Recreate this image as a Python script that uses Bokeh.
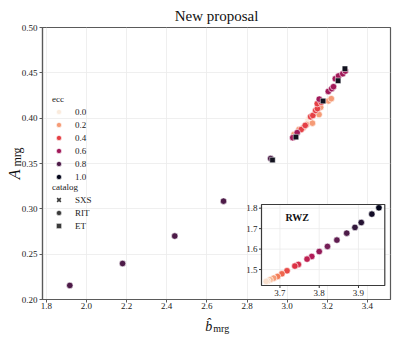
import numpy as np
from bokeh.plotting import figure
from bokeh.models import (Range1d, Label, Legend, LegendItem, LinearColorMapper,
                          FixedTicker, PrintfTickFormatter, ColumnDataSource)
from bokeh.embed import file_html
from bokeh.resources import INLINE
from bokeh.core.properties import value

# ---------------- data ----------------
ecc_levels = [0.0, 0.2, 0.4, 0.6, 0.8, 1.0]

rit_b = [1.917, 2.180, 2.440, 2.683, 2.918,
         3.028, 3.050, 3.160, 3.205, 3.222, 3.231, 3.240, 3.256, 3.277, 3.290,
         3.070, 3.090, 3.117, 3.128, 3.142, 3.151, 3.150, 3.170,
         3.034, 3.059, 3.080, 3.097, 3.126, 3.159, 3.167, 3.205, 3.220,
         3.085, 3.104, 3.120, 3.138]
rit_A = [0.2155, 0.2397, 0.2700, 0.3085, 0.3555,
         0.3785, 0.3840, 0.4210, 0.4295, 0.4325, 0.4347, 0.4435, 0.4465, 0.4490, 0.4520,
         0.3875, 0.3920, 0.4015, 0.4030, 0.4085, 0.4105, 0.4160, 0.4175,
         0.3820, 0.3875, 0.3895, 0.3930, 0.3945, 0.4040, 0.4120, 0.4190, 0.4215,
         0.3915, 0.3985, 0.4005, 0.4060]
rit_ecc = [0.8, 0.8, 0.8, 0.8, 0.8,
           0.6, 0.6, 0.6, 0.6, 0.6, 0.6, 0.6, 0.6, 0.6, 0.6,
           0.4, 0.4, 0.4, 0.4, 0.4, 0.4, 0.4, 0.4,
           0.2, 0.2, 0.2, 0.2, 0.2, 0.2, 0.2, 0.2, 0.2,
           0.0, 0.0, 0.0, 0.0]

et_b = [2.927, 3.044, 3.179, 3.254, 3.288]
et_A = [0.3538, 0.3791, 0.4189, 0.4413, 0.4545]

sxs_b = []
sxs_A = []

rwz_b = [3.952, 3.934, 3.907, 3.891, 3.870, 3.845, 3.821, 3.800, 3.781, 3.769,
         3.747, 3.738, 3.718, 3.705, 3.694, 3.684, 3.675, 3.669, 3.665]
rwz_A = [1.802, 1.771, 1.730, 1.706, 1.678, 1.644, 1.613, 1.588, 1.564, 1.551,
         1.525, 1.517, 1.494, 1.479, 1.466, 1.458, 1.450, 1.444, 1.442]
rwz_ecc = [1.00, 0.95, 0.90, 0.86, 0.80, 0.75, 0.70, 0.63, 0.56, 0.52,
           0.47, 0.44, 0.38, 0.32, 0.27, 0.20, 0.14, 0.08, 0.03]

x_ticks = [1.8, 2.0, 2.2, 2.4, 2.6, 2.8, 3.0, 3.2, 3.4]
y_ticks = [0.20, 0.25, 0.30, 0.35, 0.40, 0.45, 0.50]
inset_x_ticks = [3.7, 3.8, 3.9]
inset_y_ticks = [1.5, 1.6, 1.7, 1.8]

catalogs = ["SXS", "RIT", "ET"]

# ---------------- style ----------------
SERIF = "Liberation Serif"
SPINE = "#5a5a5a"
INSET_SPINE = "#3a3a3a"
GRID = "#ebebeb"
TXT = "#222222"
CAT_GRAY = "#3b3b3b"

rocket_anchor = ["#03051A", "#35193E", "#701F57", "#AD1759",
                 "#E13342", "#F37651", "#F6B48F", "#FAEBDD"]
anchor_rgb = np.array([[int(h[i:i + 2], 16) for i in (1, 3, 5)] for h in rocket_anchor], float)
anchor_t = np.linspace(0, 1, len(rocket_anchor))


def rocket(t):
    rgb = [np.interp(t, anchor_t, anchor_rgb[:, k]) for k in range(3)]
    return "#%02x%02x%02x" % tuple(int(round(c)) for c in rgb)


def ecc_color(e):
    return rocket(1.0 - e)


palette = [ecc_color(e) for e in np.linspace(0, 1, 256)]

# ---------------- main figure ----------------
X0, X1 = 1.781, 3.515
Y0, Y1 = 0.20, 0.50
FW, FH = 348, 272

p = figure(frame_width=FW, frame_height=FH, min_border_left=42, min_border_right=1,
           min_border_top=27, min_border_bottom=39, title="New proposal",
           x_range=Range1d(X0, X1), y_range=Range1d(Y0, Y1),
           output_backend="svg", toolbar_location=None, tools="")
p.title.text_font = SERIF
p.title.text_font_size = "15px"
p.title.text_font_style = "normal"
p.title.text_color = "#111111"
p.title.align = "center"
p.title.standoff = 8

p.background_fill_color = "white"
p.border_fill_color = "white"
p.outline_line_color = SPINE
p.outline_line_width = 1.2
p.outline_line_alpha = 1.0

p.xaxis.ticker = FixedTicker(ticks=x_ticks)
p.yaxis.ticker = FixedTicker(ticks=y_ticks)
p.xaxis.formatter = PrintfTickFormatter(format="%.1f")
p.yaxis.formatter = PrintfTickFormatter(format="%.2f")
for ax in (p.xaxis[0], p.yaxis[0]):
    ax.axis_line_color = SPINE
    ax.axis_line_width = 1.2
    ax.major_tick_line_color = SPINE
    ax.major_tick_line_width = 1
    ax.major_tick_out = 3
    ax.major_tick_in = 0
    ax.minor_tick_line_color = None
    ax.major_label_text_font = SERIF
    ax.major_label_text_font_size = "9px"
    ax.major_label_text_color = TXT
p.xaxis.major_label_standoff = 0
p.yaxis.major_label_standoff = 2
p.grid.grid_line_color = GRID
p.grid.grid_line_width = 0.8

# RIT circles grouped by eccentricity (NaN keeps the legend swatch of an empty group)
rb, rA, re = np.array(rit_b), np.array(rit_A), np.array(rit_ecc)
ecc_items = []
for e in ecc_levels:
    m = np.isclose(re, e)
    xs, ys = list(rb[m]), list(rA[m])
    if not xs:
        xs, ys = [np.nan], [np.nan]
    r = p.scatter(xs, ys, marker="circle", size=6.5, fill_color=ecc_color(e),
                  line_color="white", line_width=0.6)
    ecc_items.append(LegendItem(label=value(f"{e:.1f}"), renderers=[r]))

# ET squares
p.scatter(et_b, et_A, marker="square", size=5.5, fill_color="#12121f",
          line_color="white", line_width=0.5)

# catalog legend swatches (gray)
cat_style = {"SXS": dict(marker="x", line_color=CAT_GRAY, line_width=1.6),
             "RIT": dict(marker="circle", line_color="white", line_width=0.5),
             "ET": dict(marker="square", line_color="white", line_width=0.5)}
cat_items = []
for c in catalogs:
    xs = sxs_b if (c == "SXS" and sxs_b) else [np.nan]
    ys = sxs_A if (c == "SXS" and sxs_A) else [np.nan]
    r = p.scatter(xs, ys, fill_color=CAT_GRAY, **cat_style[c])
    cat_items.append(LegendItem(label=value(c), renderers=[r]))


def make_legend(title, items, loc):
    lg = Legend(title=title, items=items, location=loc, orientation="vertical",
                background_fill_alpha=0, border_line_color=None,
                padding=0, margin=0, spacing=0,
                glyph_width=13, glyph_height=13, label_height=13, label_standoff=10,
                title_standoff=1,
                label_text_font=SERIF, label_text_font_size="9px", label_text_color=TXT,
                title_text_font=SERIF, title_text_font_size="9px", title_text_color=TXT,
                title_text_font_style="normal")
    p.add_layout(lg, "center")
    return lg


make_legend("ecc", ecc_items, (10, 116))
make_legend("catalog", cat_items, (10, 67))

# ---------------- inset (RWZ) ----------------
IX0, IX1, IY0, IY1 = 3.653, 3.967, 1.422, 1.818
IL, IR = 219.0, 342.3     # inset box, px from frame left
IB, IT = 14.0, 95.0       # inset box, px from frame bottom
sx = (IX1 - IX0) / (IR - IL)
sy = (IY1 - IY0) / (IT - IB)
p.extra_x_ranges = {"ix": Range1d(IX0 - IL * sx, IX0 + (FW - IL) * sx)}
p.extra_y_ranges = {"iy": Range1d(IY0 - IB * sy, IY0 + (FH - IB) * sy)}
ikw = dict(x_range_name="ix", y_range_name="iy")

p.quad(left=[IX0], right=[IX1], bottom=[IY0], top=[IY1], fill_color="white",
       line_color=None, **ikw)
p.segment(x0=inset_x_ticks, x1=inset_x_ticks, y0=[IY0] * len(inset_x_ticks),
          y1=[IY1] * len(inset_x_ticks), line_color=GRID, line_width=0.8, **ikw)
p.segment(x0=[IX0] * len(inset_y_ticks), x1=[IX1] * len(inset_y_ticks),
          y0=inset_y_ticks, y1=inset_y_ticks, line_color=GRID, line_width=0.8, **ikw)
p.segment(x0=inset_x_ticks, x1=inset_x_ticks, y0=[IY0] * len(inset_x_ticks),
          y1=[IY0 - 2.5 * sy] * len(inset_x_ticks), line_color=INSET_SPINE, line_width=1, **ikw)
p.segment(x0=[IX0] * len(inset_y_ticks), x1=[IX0 - 2.5 * sx] * len(inset_y_ticks),
          y0=inset_y_ticks, y1=inset_y_ticks, line_color=INSET_SPINE, line_width=1, **ikw)

mapper = LinearColorMapper(palette=palette, low=0, high=1)
src = ColumnDataSource(dict(x=rwz_b, y=rwz_A, e=rwz_ecc))
p.scatter("x", "y", source=src, marker="circle", size=6.5,
          fill_color={"field": "e", "transform": mapper},
          line_color="white", line_width=0.6, **ikw)

p.quad(left=[IX0], right=[IX1], bottom=[IY0], top=[IY1], fill_color=None,
       line_color=INSET_SPINE, line_width=1.2, **ikw)

p.text(x=inset_x_ticks, y=[IY0] * len(inset_x_ticks), text=[f"{t:.1f}" for t in inset_x_ticks],
       text_align="center", text_baseline="top", y_offset=4,
       text_font=value(SERIF), text_font_size="9px", text_color=TXT, **ikw)
p.text(x=[IX0] * len(inset_y_ticks), y=inset_y_ticks, text=[f"{t:.1f}" for t in inset_y_ticks],
       text_align="right", text_baseline="middle", x_offset=-4,
       text_font=value(SERIF), text_font_size="9px", text_color=TXT, **ikw)

p.add_layout(Label(x=IX0, y=IY1, x_range_name="ix", y_range_name="iy", x_offset=24, y_offset=-13,
                   text="RWZ", text_font=SERIF, text_font_size="10px", text_font_style="bold",
                   text_color="#111111", text_baseline="middle", text_align="left"))

# ---------------- axis labels (in side panels, so they are not clipped) ----------------
XM = (X0 + X1) / 2
YM = (Y0 + Y1) / 2

p.add_layout(Label(x=XM, y=Y0, x_offset=-4.3, y_offset=-27, text="b\u0302", text_font=SERIF,
                   text_font_size="14px", text_font_style="italic", text_color="#111111",
                   text_align="right", text_baseline="alphabetic"), "below")
p.add_layout(Label(x=XM, y=Y0, x_offset=-3.3, y_offset=-29, text="mrg", text_font=SERIF,
                   text_font_size="10px", text_color="#111111",
                   text_align="left", text_baseline="alphabetic"), "below")

p.add_layout(Label(x=X0, y=YM, x_offset=-28, y_offset=-15.7, angle=np.pi / 2, text="A",
                   text_font=SERIF, text_font_size="16px", text_font_style="italic",
                   text_color="#111111", text_align="left", text_baseline="alphabetic"), "left")
p.add_layout(Label(x=X0, y=YM, x_offset=-25.5, y_offset=-3, angle=np.pi / 2, text="mrg",
                   text_font=SERIF, text_font_size="12px", text_color="#111111",
                   text_align="left", text_baseline="alphabetic"), "right")

open("out.html", "w").write(file_html(p, INLINE))
